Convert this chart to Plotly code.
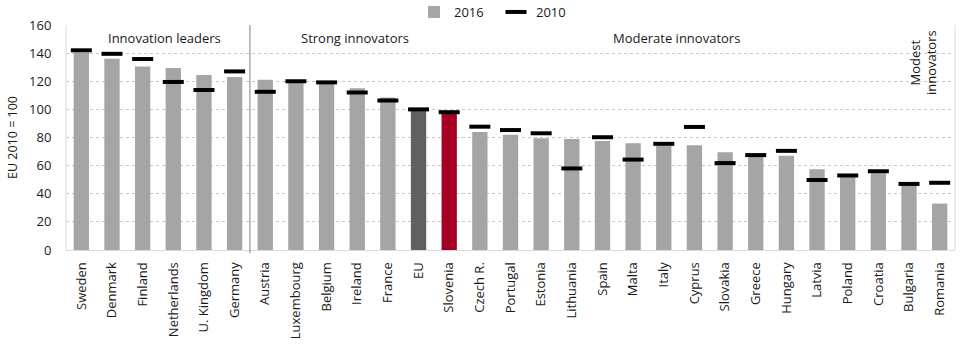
import plotly.graph_objects as go

countries = ["Sweden", "Denmark", "Finland", "Netherlands", "U. Kingdom", "Germany",
             "Austria", "Luxembourg", "Belgium", "Ireland", "France", "EU", "Slovenia",
             "Czech R.", "Portugal", "Estonia", "Lithuania", "Spain", "Malta", "Italy",
             "Cyprus", "Slovakia", "Greece", "Hungary", "Latvia", "Poland", "Croatia",
             "Bulgaria", "Romania"]
v2016 = [140.5, 136, 130.5, 129.5, 124.5, 123, 121, 119, 118, 115, 108.5, 101, 97,
         84, 82, 79.5, 79, 77.5, 76, 74, 74.5, 69.5, 66.5, 67, 57.5, 52, 54.5, 46, 33]
v2010 = [142, 139.5, 135.8, 119.5, 113.8, 127, 112.5, 120, 119.2, 112, 106.3, 100, 98,
         87.7, 85.3, 83, 58, 80.2, 64.3, 75.5, 87.5, 61.8, 67.5, 70.5, 49.8, 53, 56, 47, 47.8]

groups = ["Innovation leaders", "Strong innovators", "Moderate innovators", "Modest<br>innovators"]
yticks = [0, 20, 40, 60, 80, 100, 120, 140, 160]

GRAY = "#A5A5A5"
colors = [("#606060" if c == "EU" else "#A50021" if c == "Slovenia" else GRAY) for c in countries]
FONT = "Open Sans"
TXT = "#1a1a1a"

fig = go.Figure()
fig.add_trace(go.Bar(x=countries, y=v2016, name="2016", marker=dict(color=colors, line=dict(width=0)),
                     width=0.5))
fig.add_trace(go.Scatter(x=countries, y=v2010, name="2010", mode="markers",
                         marker=dict(symbol="line-ew", size=15, color="black",
                                     line=dict(color="black", width=4))))

# group separator
fig.add_shape(type="line", xref="x", yref="paper", x0=5.5, x1=5.5, y0=-0.015, y1=1,
              line=dict(color="#808080", width=1))

ann_font = dict(family=FONT, size=13, color=TXT)
fig.add_annotation(x=2.71, y=150.8, text=groups[0], showarrow=False, font=ann_font)
fig.add_annotation(x=8.94, y=150.8, text=groups[1], showarrow=False, font=ann_font)
fig.add_annotation(x=19.43, y=150.8, text=groups[2], showarrow=False, font=ann_font)
fig.add_annotation(x=27.45, y=133.5, text=groups[3], showarrow=False, font=ann_font, textangle=-90)

fig.update_layout(
    width=960, height=347,
    margin=dict(l=66, r=5, t=25, b=97, autoexpand=False),
    plot_bgcolor="white", paper_bgcolor="white",
    font=dict(family=FONT, size=13, color=TXT),
    showlegend=True,
    legend=dict(orientation="h", x=(414 - 66) / 889, xanchor="left",
                yref="container", y=1 - 12 / 347, yanchor="middle",
                font=dict(family=FONT, size=13, color=TXT), entrywidth=37, entrywidthmode="pixels",
                traceorder="normal", bgcolor="rgba(0,0,0,0)"),
    bargap=0.5,
    xaxis=dict(range=[-0.5, 28.5], tickangle=-90, showline=True, linecolor="#D9D9D9",
               linewidth=1, mirror=False, ticks="outside", ticklen=6, tickcolor="rgba(0,0,0,0)",
               tickfont=dict(size=13)),
    yaxis=dict(range=[0, 160], tickvals=yticks, showgrid=True, gridcolor="#C8C8C8",
               griddash="dot", gridwidth=1, zeroline=False, ticks="outside", ticklen=11,
               tickcolor="rgba(0,0,0,0)",
               title=dict(text="EU 2010 = 100", font=dict(size=12.5), standoff=8),
               tickfont=dict(size=13)),
)
# left/right border lines of plot area
fig.add_shape(type="line", xref="paper", yref="paper", x0=0, x1=0, y0=0, y1=1,
              line=dict(color="#D9D9D9", width=1))
fig.add_shape(type="line", xref="paper", yref="paper", x0=1, x1=1, y0=0, y1=1,
              line=dict(color="#D9D9D9", width=1))

fig.write_html("out.html")
